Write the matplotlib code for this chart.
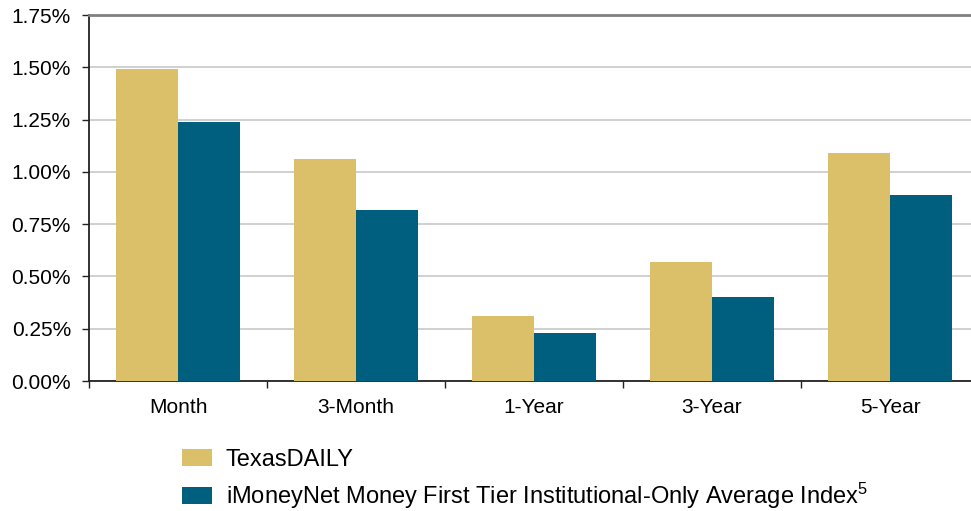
import numpy as np
import matplotlib
matplotlib.use("Agg")
import matplotlib.pyplot as plt
from matplotlib.patches import Patch
from matplotlib.ticker import FixedLocator, FuncFormatter

plt.rcParams["font.family"] = ["Liberation Sans", "DejaVu Sans"]
plt.rcParams["mathtext.fontset"] = "custom"
plt.rcParams["mathtext.rm"] = "Liberation Sans"
plt.rcParams["mathtext.it"] = "Liberation Sans"

categories = ["Month", "3-Month", "1-Year", "3-Year", "5-Year"]
texas_daily = [1.49, 1.06, 0.31, 0.57, 1.09]
imoneynet = [1.24, 0.82, 0.23, 0.40, 0.89]
series_names = ["TexasDAILY", "iMoneyNet Money First Tier Institutional-Only Average Index$^{5}$"]

gold = "#DBBF69"
teal = "#005E7E"

fig = plt.figure(figsize=(9.71, 5.11), dpi=100)
ax = fig.add_axes([89 / 971, 130 / 511, 890 / 971, 366 / 511])

x = np.arange(len(categories))
w = 0.35
ax.bar(x - w / 2, texas_daily, w, color=gold, zorder=3)
ax.bar(x + w / 2, imoneynet, w, color=teal, zorder=3)

ax.set_xlim(-0.5, len(categories) - 0.5)
ax.set_ylim(0, 1.75)
ax.set_yticks(np.arange(0, 1.76, 0.25))
ax.yaxis.set_major_formatter(FuncFormatter(lambda v, p: f"{v:.2f}%"))
ax.grid(axis="y", color="#c8c8c8", linewidth=1.2, zorder=0)

ax.set_xticks(x)
ax.set_xticklabels(categories)
ax.xaxis.set_minor_locator(FixedLocator(np.arange(-0.5, len(categories), 1.0)))
ax.tick_params(axis="x", which="major", length=0, pad=12, labelsize=15)
ax.tick_params(axis="x", which="minor", length=5, width=1, color="#222222")
ax.tick_params(axis="y", length=5, width=1, color="#222222", pad=8, labelsize=15)

for side in ["left", "bottom"]:
    ax.spines[side].set_color("#222222")
    ax.spines[side].set_linewidth(1.3)
ax.spines["top"].set_color("#808080")
ax.spines["top"].set_linewidth(2)
ax.spines["right"].set_visible(False)

handles = [Patch(facecolor=gold), Patch(facecolor=teal)]
fig.legend(handles, series_names, loc="upper left", bbox_to_anchor=(182 / 971, 1 - 449 / 511),
           frameon=False, fontsize=17, handlelength=1.25, handleheight=0.75,
           handletextpad=0.6, labelspacing=0.4, borderpad=0, borderaxespad=0)

fig.savefig("out.png", dpi=100)
